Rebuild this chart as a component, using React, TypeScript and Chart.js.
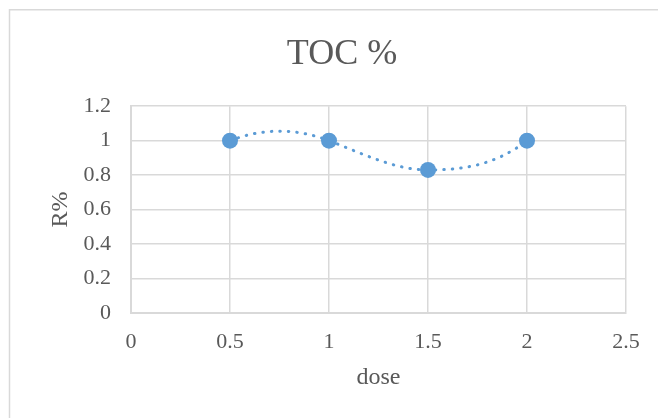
import React, { useEffect, useRef } from "react";
import { Chart, registerables } from "chart.js";

Chart.register(...registerables);

const chartTitle = "TOC %";
const xAxisTitle = "dose";
const yAxisTitle = "R%";
const doses = [0.5, 1, 1.5, 2];
const rValues = [1, 1, 0.83, 1];
const xTicks = [0, 0.5, 1, 1.5, 2, 2.5];
const yTicks = [0, 0.2, 0.4, 0.6, 0.8, 1, 1.2];

const FONT = "'Liberation Serif', 'Times New Roman', serif";
const TEXT = "#595959";
const GRID = "#d9d9d9";
const BLUE = "#5b9bd5";

// Excel-like smoothing: recompute bezier control points from the scaled points
const smoothPlugin = {
  id: "excelSmooth",
  beforeDatasetsDraw(chart: any) {
    chart.data.datasets.forEach((_ds: any, di: number) => {
      const meta = chart.getDatasetMeta(di);
      const line = meta.dataset;
      const pts = meta.data;
      if (!line || !pts || pts.length < 2) return;
      const n = pts.length;
      const chord: number[] = [];
      for (let i = 0; i < n - 1; i++) {
        chord.push((pts[i + 1].y - pts[i].y) / (pts[i + 1].x - pts[i].x));
      }
      const u: number[] = new Array(n).fill(0);
      if (n === 2) {
        u[0] = chord[0];
        u[1] = chord[0];
      } else {
        for (let i = 1; i < n - 1; i++) u[i] = chord[i - 1] + chord[i];
        u[0] = 2 * chord[0] - u[1];
        u[n - 1] = 2 * chord[n - 2] - u[n - 2];
      }
      const k = 1.3;
      for (let i = 0; i < n; i++) {
        const p = pts[i];
        const m = k * u[i];
        const dPrev = i > 0 ? (p.x - pts[i - 1].x) / 3 : 0;
        const dNext = i < n - 1 ? (pts[i + 1].x - p.x) / 3 : 0;
        p.cp1x = p.x - dPrev;
        p.cp1y = p.y - m * dPrev;
        p.cp2x = p.x + dNext;
        p.cp2y = p.y + m * dNext;
      }
      line._pointsUpdated = true;
      line.updateControlPoints = () => {};
      line._path = undefined;
    });
  },
};

const framePlugin = {
  id: "frame",
  beforeDraw(chart: any) {
    const ctx = chart.ctx;
    ctx.save();
    ctx.strokeStyle = GRID;
    ctx.lineWidth = 1.5;
    ctx.strokeRect(9.5, 9.75, 700, 500);
    ctx.restore();
  },
  afterLayout(chart: any) {
    const t = chart.titleBlock;
    if (t) {
      t.left += 6;
      t.right += 6;
    }
  },
};

const fmt = (v: any) => String(v);

export default function App() {
  const ref = useRef<HTMLCanvasElement | null>(null);

  useEffect(() => {
    if (!ref.current) return;
    const chart = new Chart(ref.current, {
      type: "scatter",
      data: {
        datasets: [
          {
            label: chartTitle,
            data: doses.map((d, i) => ({ x: d, y: rValues[i] })),
            showLine: true,
            tension: 0.4,
            borderColor: BLUE,
            borderWidth: 3,
            borderDash: [0.5, 8],
            borderCapStyle: "round",
            backgroundColor: BLUE,
            pointBackgroundColor: BLUE,
            pointBorderColor: BLUE,
            pointBorderWidth: 0,
            pointRadius: 8,
            pointHoverRadius: 8,
          } as any,
        ],
      },
      options: {
        animation: false,
        responsive: true,
        maintainAspectRatio: false,
        layout: { padding: { left: 46, right: 32, top: 0, bottom: 22 } },
        plugins: {
          legend: { display: false },
          tooltip: { enabled: false },
          title: {
            display: true,
            text: chartTitle,
            color: TEXT,
            font: { family: FONT, size: 36, weight: "normal" },
            padding: { top: 33, bottom: 30 },
          },
        },
        scales: {
          x: {
            type: "linear",
            min: 0,
            max: 2.5,
            afterBuildTicks: (s: any) => {
              s.ticks = xTicks.map((v) => ({ value: v }));
            },
            afterFit: (s: any) => {
              s.height = 83;
            },
            ticks: {
              color: TEXT,
              font: { family: FONT, size: 22 },
              padding: 16,
              maxRotation: 0,
              callback: fmt,
            },
            grid: { color: GRID, lineWidth: 1.5, drawTicks: false },
            border: { color: GRID, width: 2 },
            title: {
              display: true,
              text: xAxisTitle,
              color: TEXT,
              font: { family: FONT, size: 24 },
              padding: { top: 8, bottom: 4 },
            },
          },
          y: {
            type: "linear",
            min: 0,
            max: 1.2,
            afterBuildTicks: (s: any) => {
              s.ticks = yTicks.map((v) => ({ value: v }));
            },
            afterFit: (s: any) => {
              s.width = 85;
            },
            ticks: {
              color: TEXT,
              font: { family: FONT, size: 22 },
              padding: 20,
              callback: fmt,
            },
            grid: { color: GRID, lineWidth: 1.5, drawTicks: false },
            border: { color: GRID, width: 2 },
            title: {
              display: true,
              text: yAxisTitle,
              color: TEXT,
              font: { family: FONT, size: 24 },
              padding: { top: 0, bottom: 8 },
            },
          },
        },
      } as any,
      plugins: [smoothPlugin, framePlugin],
    });
    return () => chart.destroy();
  }, []);

  return (
    <div style={{ position: "fixed", left: 0, top: 0, width: 658, height: 418, background: "#fff" }}>
      <canvas ref={ref} />
    </div>
  );
}
